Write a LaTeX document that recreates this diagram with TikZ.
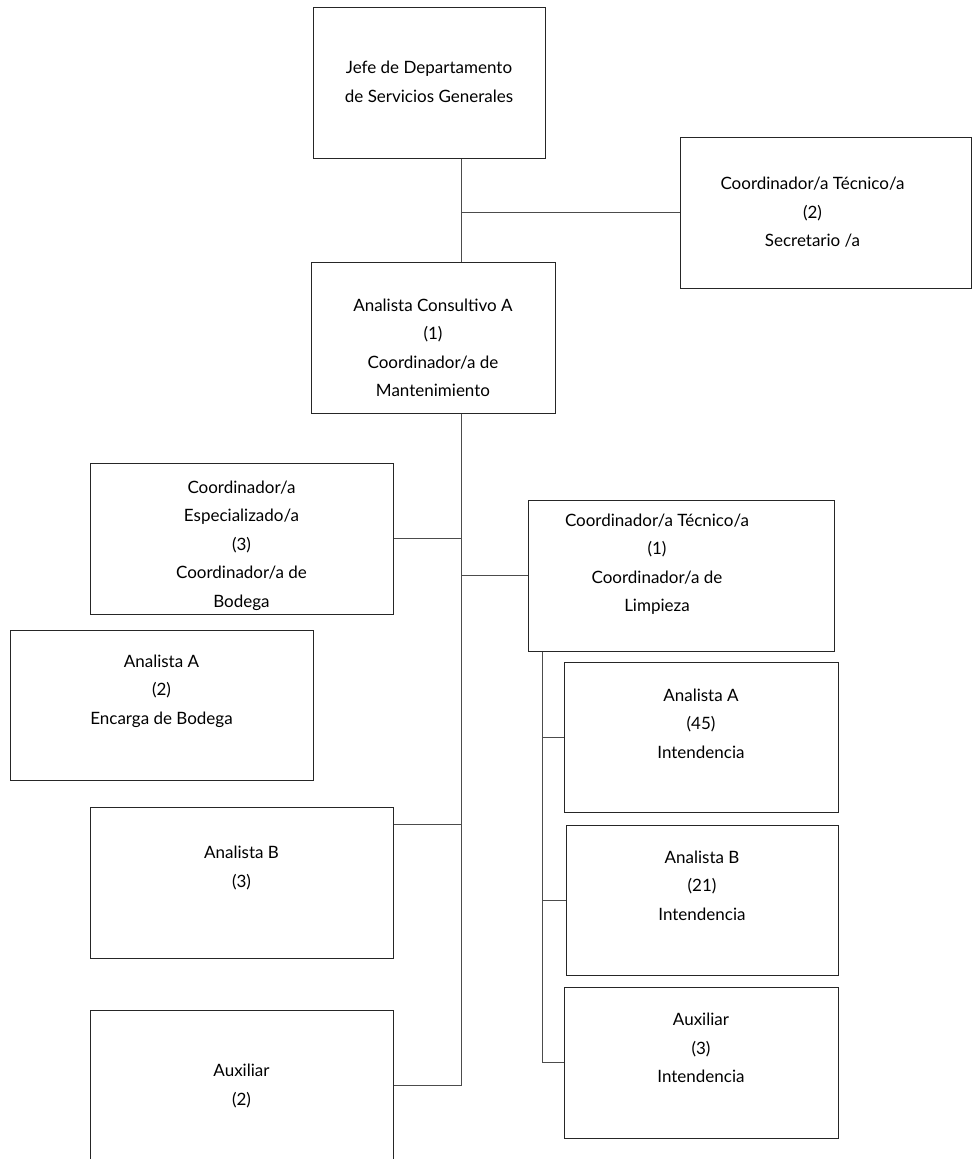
\documentclass[tikz,border=0pt]{standalone}
\usepackage{fontspec}
\setmainfont{Lato}
\newcommand{\boxtxt}[3][0]{\raisebox{\dimexpr 0pt-(#2pt)-0.25em\relax}[0pt][0pt]{\makebox[0pt]{\kern#1pt\kern#1pt\begin{tabular}{@{}c@{}}#3\end{tabular}}}}
\begin{document}
\begin{tikzpicture}[x=1pt,y=-1pt,
  orgbox/.style={draw=black!85, line width=1pt, inner sep=0pt, font=\fontsize{17}{28.5}\selectfont},
  conn/.style={draw=black!70, line width=1pt}]
\useasboundingbox (0,0) rectangle (972,1159);
% boxes
\node[orgbox, minimum width=232pt, minimum height=151pt] (jefe) at (429,82.5)
  {\boxtxt{0}{Jefe de Departamento\\de Servicios Generales}};
\node[orgbox, minimum width=291pt, minimum height=151pt] (ct2) at (825.5,212.5)
  {\boxtxt[-13]{0}{Coordinador/a Técnico/a\\(2)\\Secretario /a}};
\node[orgbox, minimum width=244pt, minimum height=151pt] (aca) at (433,337.5)
  {\boxtxt{11}{Analista Consultivo A\\(1)\\Coordinador/a de\\Mantenimiento}};
\node[orgbox, minimum width=303pt, minimum height=151pt] (ce) at (241.5,538.5)
  {\boxtxt{6}{Coordinador/a\\Especializado/a\\(3)\\Coordinador/a de\\Bodega}};
\node[orgbox, minimum width=306pt, minimum height=151pt] (ct1) at (681,575.5)
  {\boxtxt[-24]{-12}{Coordinador/a Técnico/a\\(1)\\Coordinador/a de\\Limpieza}};
\node[orgbox, minimum width=303pt, minimum height=150pt] (aa2) at (161.5,705)
  {\boxtxt{-15}{Analista A\\(2)\\Encarga de Bodega}};
\node[orgbox, minimum width=303pt, minimum height=151pt] (ab3) at (241.5,882.5)
  {\boxtxt{-15}{Analista B\\(3)}};
\node[orgbox, minimum width=303pt, minimum height=151pt] (aux2) at (241.5,1085.5)
  {\boxtxt{0}{Auxiliar\\(2)}};
\node[orgbox, minimum width=274pt, minimum height=150pt] (aa45) at (701,737)
  {\boxtxt{-13}{Analista A\\(45)\\Intendencia}};
\node[orgbox, minimum width=272pt, minimum height=150pt] (ab21) at (702,900)
  {\boxtxt{-14}{Analista B\\(21)\\Intendencia}};
\node[orgbox, minimum width=274pt, minimum height=151pt] (aux3) at (701,1062.5)
  {\boxtxt{-14}{Auxiliar\\(3)\\Intendencia}};
% connectors
\coordinate (tk) at ([xshift=28pt]aca.south);
\draw[conn] (tk |- jefe.south) -- (tk |- aca.north);
\draw[conn] (tk |- ct2.west) -- (ct2.west);
\draw[conn] (tk) -- (tk |- aux2.east);
\draw[conn] (ce.east) -- (tk |- ce.east);
\draw[conn] (tk |- ct1.west) -- (ct1.west);
\coordinate (abB) at ([yshift=-18pt]ab3.north east);
\draw[conn] (abB) -- (tk |- abB);
\draw[conn] (aux2.east) -- (tk |- aux2.east);
\coordinate (rt) at ([xshift=15pt]ct1.south west);
\draw[conn] (rt) -- (rt |- aux3.west);
\draw[conn] (rt |- aa45.west) -- (aa45.west);
\draw[conn] (rt |- ab21.west) -- (ab21.west);
\draw[conn] (rt |- aux3.west) -- (aux3.west);
\end{tikzpicture}
\end{document}
